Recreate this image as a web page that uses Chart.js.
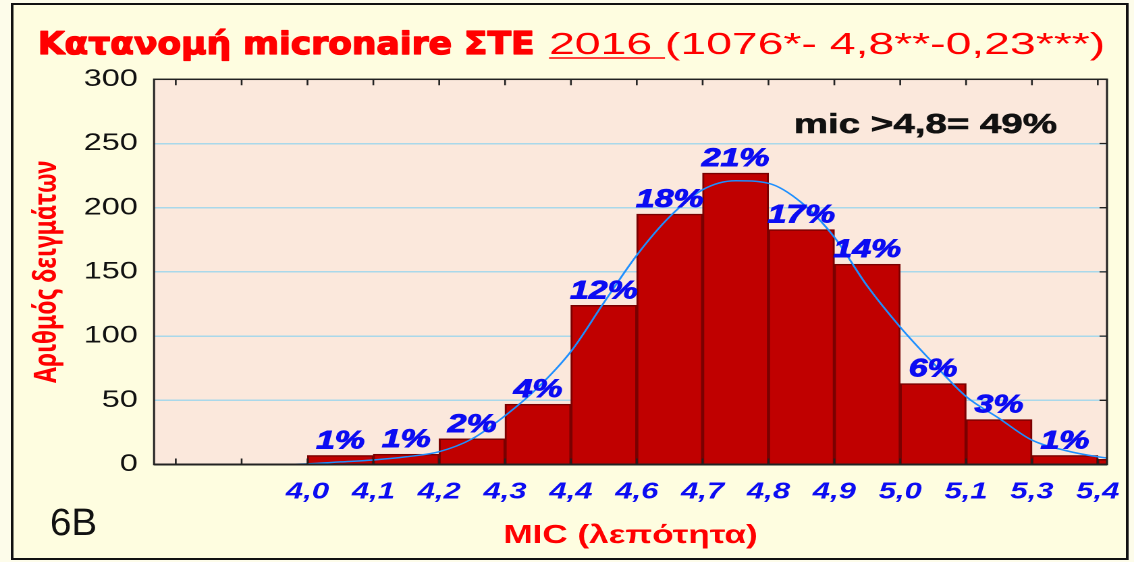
<!DOCTYPE html>
<html>
<head>
<meta charset="utf-8">
<script src="https://cdn.jsdelivr.net/npm/chart.js@4.4.1/dist/chart.umd.min.js"></script>
<style>
  body { margin: 0; background: #fdfcea; overflow: hidden; }
  /* the original picture is stretched sideways, so is this one */
  #wrap { position: absolute; left: 0; top: 0; width: 840px; height: 562px; transform: scaleX(1.35); transform-origin: 0 0; }
</style>
</head>
<body>
<div id="wrap"><canvas id="chart" width="840" height="562"></canvas></div>
<script>
// histogram data (MIC classes)
const emptyBins = 2;
const binLabels = ["4,0", "4,1", "4,2", "4,3", "4,4", "4,6", "4,7", "4,8", "4,9", "5,0", "5,1", "5,3", "5,4"];
const counts = [7, 8, 20, 47, 124, 195, 227, 183, 156, 63, 35, 7, 4];
const pctLabels = ["1%", "1%", "2%", "4%", "12%", "18%", "21%", "17%", "14%", "6%", "3%", "1%", ""];

// fitted normal curve (x in class units)
const curveAt = [1, 1.5, 2, 2.5, 3, 3.5, 4, 4.5, 5, 5.5, 6, 6.5, 7, 7.5, 8, 8.5, 9, 9.5, 10, 10.5, 11, 11.5, 12, 12.5, 13, 13.5, 14, 14.5];
const curveVals = [0, 0, 0.5, 2, 3.5, 6, 10, 20, 38, 60, 88, 126, 163, 193, 214, 221, 219, 204, 177, 139, 107, 79, 53, 36, 19, 11, 6, 3];

const titleBold = "Κατανομή micronaire ΣΤΕ";
const titleYear = "2016 ";
const titleRest = "(1076*- 4,8**-0,23***)";
const noteText = "mic >4,8= 49%";
const cornerText = "6B";

// draw text squeezed/stretched to a given width
function fitText(ctx, text, font, x, y, width, stroke) {
    ctx.font = font;
    const w = ctx.measureText(text).width;
    const sx = width / w;
    ctx.save();
    ctx.translate(x, y);
    ctx.scale(sx, 1);
    ctx.fillText(text, 0, 0);
    if (stroke) ctx.strokeText(text, 0, 0);
    ctx.restore();
    return sx;
}

const backgroundPlugin = {
    id: "background",
    beforeDraw(chart) {
        const ctx = chart.ctx;
        const a = chart.chartArea;
        ctx.save();
        ctx.fillStyle = "#fdfcea";
        ctx.fillRect(0, 0, chart.width, chart.height);
        ctx.fillStyle = "#fefde0";
        ctx.fillRect(9, 4, 826, 555);
        ctx.strokeStyle = "#111";
        ctx.lineWidth = 2;
        ctx.strokeRect(9, 4, 826, 555);
        ctx.fillStyle = "#fbe8dc";
        ctx.fillRect(a.left, a.top, a.right - a.left, a.bottom - a.top);
        ctx.restore();
    },
};

const decorPlugin = {
    id: "decor",
    afterDatasetsDraw(chart) {
        const ctx = chart.ctx;
        const a = chart.chartArea;
        const xs = chart.scales.x;
        const ys = chart.scales.y;
        ctx.save();

        // frame of the plot
        ctx.strokeStyle = "#222";
        ctx.lineWidth = 1.5;
        ctx.strokeRect(a.left, a.top, a.right - a.left, a.bottom - a.top);
        ctx.lineWidth = 2;
        ctx.beginPath();
        ctx.moveTo(a.left, a.bottom);
        ctx.lineTo(a.right, a.bottom);
        ctx.stroke();

        // inward tick marks
        ctx.lineWidth = 1.3;
        ctx.beginPath();
        xs.ticks.forEach((t) => {
            const px = xs.getPixelForValue(t.value);
            ctx.moveTo(px, a.bottom);
            ctx.lineTo(px, a.bottom - 6);
            ctx.moveTo(px, a.top);
            ctx.lineTo(px, a.top + 6);
        });
        ys.ticks.forEach((t) => {
            const py = ys.getPixelForValue(t.value);
            ctx.moveTo(a.right, py);
            ctx.lineTo(a.right - 5.5, py);
        });
        ctx.stroke();

        // percentage labels above the bars
        const meta = chart.getDatasetMeta(1);
        ctx.fillStyle = "#0c0cf2";
        ctx.strokeStyle = "#0c0cf2";
        ctx.lineWidth = 0.9;
        ctx.font = "italic bold 25px 'Liberation Sans'";
        ctx.textAlign = "center";
        ctx.textBaseline = "alphabetic";
        meta.data.forEach((bar, i) => {
            if (!pctLabels[i]) return;
            ctx.fillText(pctLabels[i], bar.x, bar.y - 7);
            ctx.strokeText(pctLabels[i], bar.x, bar.y - 7);
        });

        // note inside the plot
        ctx.textAlign = "left";
        ctx.fillStyle = "#111";
        ctx.strokeStyle = "#111";
        ctx.lineWidth = 0.6;
        fitText(ctx, noteText, "bold 28px 'Liberation Sans'", 588, 133, 195, true);
        ctx.restore();
    },
    afterDraw(chart) {
        const ctx = chart.ctx;
        ctx.save();
        ctx.textAlign = "left";
        ctx.textBaseline = "alphabetic";
        ctx.fillStyle = "#ff0000";
        ctx.strokeStyle = "#ff0000";

        // title, bold part
        ctx.lineWidth = 1.3;
        ctx.lineJoin = "round";
        fitText(ctx, titleBold, "bold 31px 'DejaVu Sans'", 28, 54, 368, true);

        // title, regular part with the underlined year
        const full = titleYear + titleRest;
        const sx = fitText(ctx, full, "31px 'Liberation Sans'", 406.7, 54, 412);
        ctx.font = "31px 'Liberation Sans'";
        const wy = ctx.measureText(titleYear).width * sx;
        ctx.lineWidth = 1.5;
        ctx.beginPath();
        ctx.moveTo(406.7, 58);
        ctx.lineTo(406.7 + wy, 58);
        ctx.stroke();

        ctx.fillStyle = "#111";
        fitText(ctx, cornerText, "38px 'Liberation Sans'", 37, 535, 35);
        ctx.restore();
    },
};

const ctx = document.getElementById("chart").getContext("2d");

const chart = new Chart(ctx, {
    type: "bar",
    data: {
        datasets: [
            {
                type: "line",
                label: "normal",
                data: curveAt.map((x, i) => ({ x: x, y: curveVals[i] })),
                borderColor: "#1e8fff",
                borderWidth: 1.5,
                pointRadius: 0,
                cubicInterpolationMode: "monotone",
                fill: false,
                order: 0,
            },
            {
                label: "MIC",
                data: counts.map((c, i) => ({ x: emptyBins + i + 0.5, y: c })),
                backgroundColor: "#c00000",
                borderColor: "#7a0000",
                borderWidth: 1.5,
                barPercentage: 1,
                categoryPercentage: 1,
                order: 1,
            },
        ],
    },
    options: {
        responsive: false,
        devicePixelRatio: 2,
        animation: false,
        layout: { padding: { left: 0, top: 79.3, right: 20, bottom: 10.4 } },
        plugins: {
            legend: { display: false },
            tooltip: { enabled: false },
        },
        scales: {
            x: {
                type: "linear",
                offset: false,
                min: -0.33,
                max: 14.14,
                afterBuildTicks: (axis) => {
                    axis.ticks = [];
                    for (let v = 0; v <= emptyBins + binLabels.length - 1; v++) axis.ticks.push({ value: v });
                },
                afterFit: (axis) => {
                    axis.height = 87.1;
                    axis.paddingLeft = 0;
                    axis.paddingRight = 0;
                },
                grid: { display: false, drawTicks: false },
                border: { display: false },
                ticks: {
                    autoSkip: false,
                    maxRotation: 0,
                    padding: 14,
                    color: "#0c0cf2",
                    font: { family: "'Liberation Sans'", size: 23, style: "italic", weight: "bold" },
                    callback: (value) => binLabels[value - emptyBins] || "",
                },
                title: {
                    display: true,
                    text: "MIC (λεπότητα)",
                    color: "#ff0000",
                    padding: { top: 0, bottom: 0 },
                    font: { family: "'Liberation Sans'", size: 26, weight: "bold" },
                },
            },
            y: {
                min: 0,
                max: 300,
                afterFit: (axis) => {
                    axis.width = 114.1;
                },
                grid: {
                    drawTicks: false,
                    lineWidth: 1.5,
                    color: (c) => (c.tick.value === 0 || c.tick.value === 300 ? "transparent" : "#a9d8ea"),
                },
                border: { display: false },
                ticks: {
                    stepSize: 50,
                    padding: 12,
                    color: "#111",
                    font: { family: "'Liberation Sans'", size: 24 },
                },
                title: {
                    display: true,
                    text: "Αριθμός δειγμάτων",
                    color: "#ff0000",
                    padding: { top: 21, bottom: 0 },
                    font: { family: "'Noto Sans'", size: 23, weight: "bold" },
                },
            },
        },
    },
    plugins: [backgroundPlugin, decorPlugin],
});
</script>
</body>
</html>
